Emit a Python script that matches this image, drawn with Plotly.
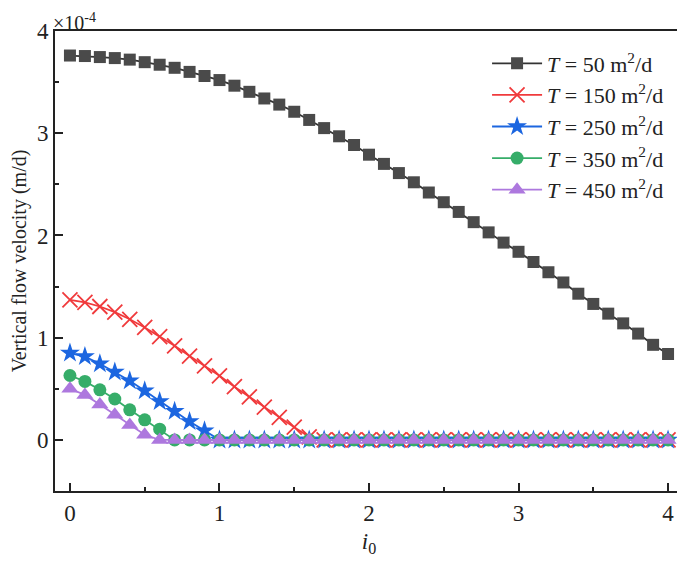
import plotly.graph_objects as go

# i0 values
i0 = [round(0.1 * k, 1) for k in range(41)]

# Vertical flow velocity, in units of 1e-4 m/d
v_T50 = [3.76, 3.755, 3.745, 3.735, 3.72, 3.695, 3.67, 3.64, 3.60, 3.56,
         3.52, 3.465, 3.405, 3.34, 3.28, 3.21, 3.13, 3.05, 2.97, 2.885,
         2.79, 2.70, 2.61, 2.52, 2.42, 2.325, 2.23, 2.13, 2.03, 1.93,
         1.84, 1.74, 1.64, 1.54, 1.43, 1.33, 1.235, 1.14, 1.04, 0.93, 0.84]
v_T150 = [1.37, 1.345, 1.305, 1.25, 1.18, 1.10, 1.01, 0.92, 0.82, 0.725,
          0.627, 0.52, 0.42, 0.32, 0.22, 0.124, 0.03] + [0.0] * 24
v_T250 = [0.85, 0.815, 0.745, 0.665, 0.578, 0.48, 0.376, 0.28, 0.18, 0.09] + [0.0] * 31
v_T350 = [0.63, 0.572, 0.49, 0.40, 0.294, 0.196, 0.105] + [0.0] * 34
v_T450 = [0.50, 0.44, 0.345, 0.245, 0.145, 0.05] + [0.0] * 35

names = ["<i>T</i> = 50 m<sup>2</sup>/d", "<i>T</i> = 150 m<sup>2</sup>/d",
         "<i>T</i> = 250 m<sup>2</sup>/d", "<i>T</i> = 350 m<sup>2</sup>/d",
         "<i>T</i> = 450 m<sup>2</sup>/d"]
series = [v_T50, v_T150, v_T250, v_T350, v_T450]
colors = ["#4a4a4a", "#f03a3c", "#1c66e0", "#36ad69", "#ad78de"]
line_colors = ["#333333", "#f03a3c", "#1c66e0", "#36ad69", "#ad78de"]
symbols = ["square", "x-thin", "star", "circle", "triangle-up"]
sizes = [12, 15, 15, 13, 15]

FONT = "Liberation Serif, Times New Roman, serif"
INK = "#222222"

fig = go.Figure()
for name, ys, c, lc, sym, sz in zip(names, series, colors, line_colors, symbols, sizes):
    marker = dict(symbol=sym, size=sz, color=c)
    if sym == "x-thin":
        marker["line"] = dict(color=c, width=1.8)
    else:
        marker["line"] = dict(width=0)
    fig.add_trace(go.Scatter(x=i0, y=ys, mode="lines+markers", name=name,
                             line=dict(color=lc, width=1.8), marker=marker))

axis_common = dict(
    showgrid=False, zeroline=False, showline=True, linecolor=INK,
    linewidth=2, mirror=True, ticks="inside", tickcolor=INK,
    tickwidth=2, ticklen=8, automargin=False,
    tickfont=dict(family=FONT, size=23, color=INK),
)

fig.update_xaxes(
    range=[-0.1, 4.1], tickmode="array", tickvals=[0, 1, 2, 3, 4],
    minor=dict(ticks="inside", tickvals=[0.5, 1.5, 2.5, 3.5], ticklen=4,
               tickwidth=2, tickcolor=INK),
    title=dict(text="<i>i</i><sub>0</sub>", font=dict(family=FONT, size=23, color=INK),
               standoff=8),
    **axis_common)
fig.update_yaxes(
    range=[-0.5, 4.0], tickmode="array", tickvals=[0, 1, 2, 3, 4],
    minor=dict(ticks="inside", tickvals=[-0.5, 0.5, 1.5, 2.5, 3.5], ticklen=4,
               tickwidth=2, tickcolor=INK),
    title=dict(text="Vertical flow velocity (m/d)",
               font=dict(family=FONT, size=20, color=INK), standoff=6),
    **axis_common)

fig.add_annotation(text="\u00d710<sup>-4</sup>", xref="paper", yref="paper",
                   x=0, y=1, xanchor="left", yanchor="bottom", showarrow=False,
                   xshift=-4, yshift=-5, font=dict(family=FONT, size=20, color=INK))

# The page adds an 8 px body margin, so the figure is sized to end at the window edge.
fig.update_layout(
    width=677, height=553,
    margin=dict(l=47, r=2, t=23, b=70),
    plot_bgcolor="white", paper_bgcolor="white",
    legend=dict(x=0.688, y=0.975, xanchor="left", yanchor="top", itemwidth=50,
                bgcolor="rgba(0,0,0,0)", font=dict(family=FONT, size=22, color=INK),
                tracegroupgap=0),
    font=dict(family=FONT, color=INK),
)

fig.write_html("out.html")
